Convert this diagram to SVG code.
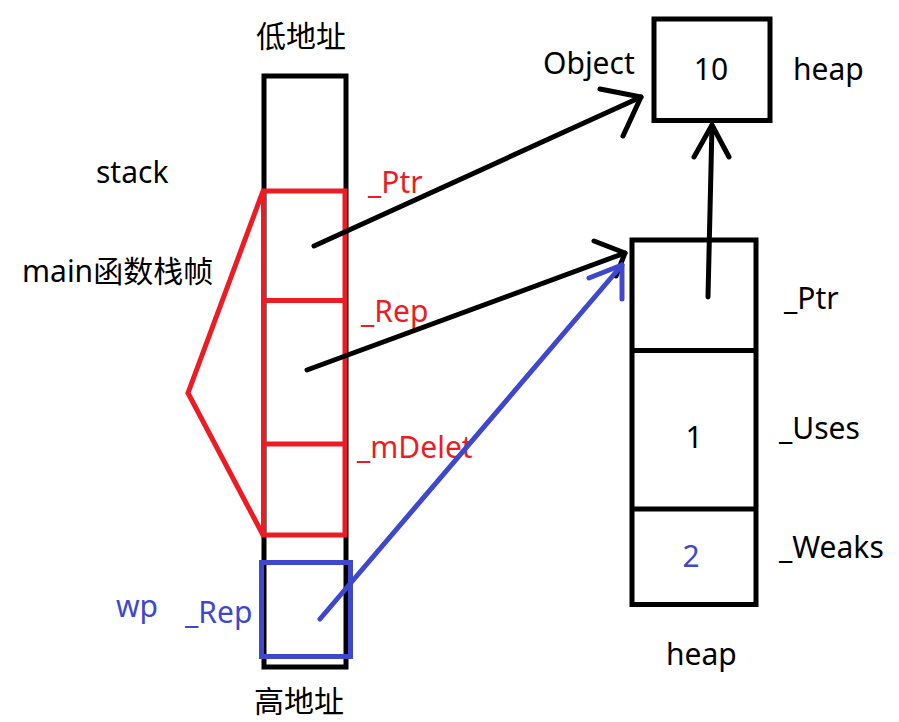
<svg xmlns="http://www.w3.org/2000/svg" width="899" height="722" viewBox="0 0 899 722">
<style>
text{font-family:"Noto Sans","Noto Sans CJK SC",sans-serif;font-size:30px}
.k{fill:#000}.r{fill:#ed1c24}.b{fill:#3f48cc}
.sk{fill:none;stroke:#000;stroke-width:5}
.sr{fill:none;stroke:#ed1c24;stroke-width:5}
.sb{fill:none;stroke:#3f48cc;stroke-width:5}
.cj{font-family:"Noto Sans CJK SC",sans-serif}
</style>
<rect width="899" height="722" fill="#fff"/>
<g id="stack">
<rect class="sk" x="264" y="76" width="82" height="591"/>
<text class="k cj" x="256" y="47">低地址</text>
<text class="k cj" x="254" y="712">高地址</text>
<text class="k" x="96" y="183">stack</text>
</g>
<g id="main-frame">
<rect class="sr" x="263.5" y="191" width="81.5" height="344"/>
<line class="sr" x1="263.5" y1="300.5" x2="345" y2="300.5"/>
<line class="sr" x1="263.5" y1="444" x2="345" y2="444"/>
<polyline class="sr" points="263,191 188,393 263,535"/>
<text class="k" x="22" y="282">main<tspan class="cj">函数栈帧</tspan></text>
<text class="r" x="368" y="193">_Ptr</text>
<text class="r" x="361" y="322">_Rep</text>
<text class="r" x="357" y="458">_mDelet</text>
</g>
<g id="wp">
<rect class="sb" x="261.5" y="562.5" width="89" height="94"/>
<text class="b" x="116" y="617">wp</text>
<text class="b" x="185" y="623">_Rep</text>
</g>
<g id="object">
<rect class="sk" x="654" y="19" width="116" height="101.5"/>
<text class="k" x="711" y="80" text-anchor="middle">10</text>
<text class="k" x="543" y="74">Object</text>
<text class="k" x="793" y="80">heap</text>
</g>
<g id="control-block">
<rect class="sk" x="632" y="240" width="124" height="364.5"/>
<line class="sk" x1="632" y1="350.5" x2="756" y2="350.5"/>
<line class="sk" x1="632" y1="509" x2="756" y2="509"/>
<text class="k" x="694" y="448" text-anchor="middle">1</text>
<text class="b" x="691" y="567" text-anchor="middle">2</text>
<text class="k" x="784" y="309">_Ptr</text>
<text class="k" x="779" y="439">_Uses</text>
<text class="k" x="779" y="558">_Weaks</text>
<text class="k" x="666" y="665">heap</text>
</g>
<g id="connectors" stroke-linecap="round" stroke-linejoin="round">
<line class="sk" x1="314" y1="246" x2="641" y2="97"/>
<polyline class="sk" points="600,89 641,97 623,136"/>
<line class="sk" x1="307" y1="370" x2="625" y2="253"/>
<polyline class="sk" points="594,241 625,253 616,276"/>
<line class="sk" x1="708" y1="297" x2="712" y2="125"/>
<polyline class="sk" points="694,157 712,125 729,157"/>
<line class="sb" x1="320" y1="619" x2="622" y2="265"/>
<polyline class="sb" points="589,278 622,265 622,299"/>
</g>
</svg>
